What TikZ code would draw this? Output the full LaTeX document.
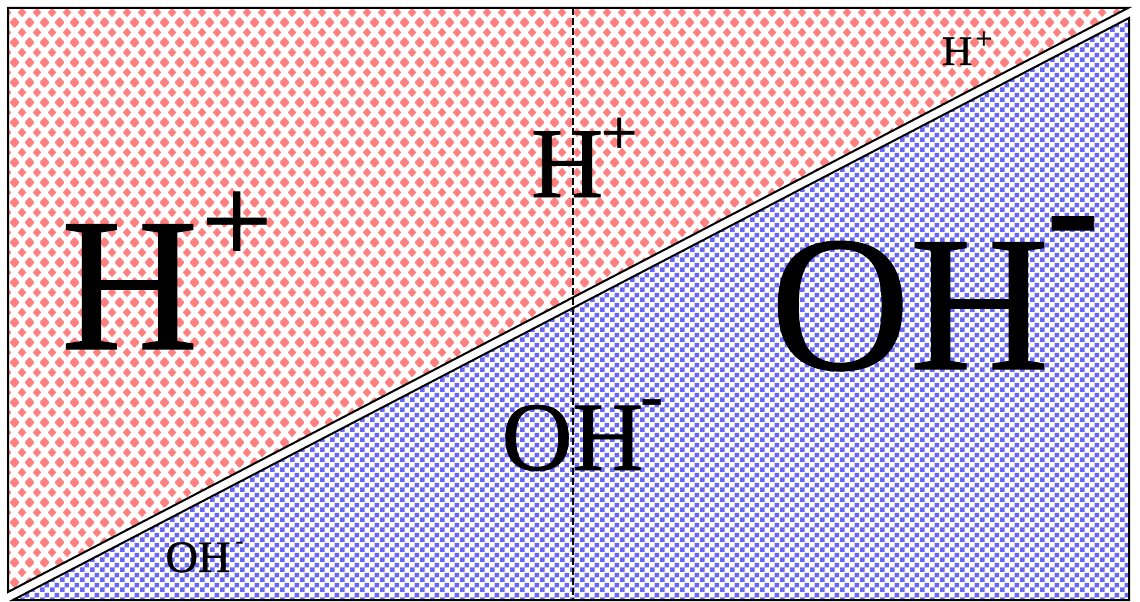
\documentclass[tikz,border=0pt]{standalone}
\usepackage{fontspec}
\setmainfont{Liberation Serif}
\newfontface\ionfont{Liberation Serif}[FakeBold=0.7]
\newfontface\ionfontbold{Liberation Serif Bold}[FakeBold=0.5]
\usetikzlibrary{patterns}
\definecolor{hred}{RGB}{255,128,128}
\definecolor{ohblue}{RGB}{104,104,248}
\pgfdeclarepatternformonly{reddiamonds}{\pgfqpoint{0pt}{0pt}}{\pgfqpoint{15pt}{20pt}}{\pgfqpoint{15pt}{20pt}}{%
  \pgfpathmoveto{\pgfqpoint{3pt}{10pt}}%
  \pgfpathlineto{\pgfqpoint{7.5pt}{5pt}}%
  \pgfpathlineto{\pgfqpoint{12pt}{10pt}}%
  \pgfpathlineto{\pgfqpoint{7.5pt}{15pt}}%
  \pgfpathclose
  \pgfpathmoveto{\pgfqpoint{-4.5pt}{0pt}}%
  \pgfpathlineto{\pgfqpoint{0pt}{-5pt}}%
  \pgfpathlineto{\pgfqpoint{4.5pt}{0pt}}%
  \pgfpathlineto{\pgfqpoint{0pt}{5pt}}%
  \pgfpathclose
  \pgfpathmoveto{\pgfqpoint{10.5pt}{0pt}}%
  \pgfpathlineto{\pgfqpoint{15pt}{-5pt}}%
  \pgfpathlineto{\pgfqpoint{19.5pt}{0pt}}%
  \pgfpathlineto{\pgfqpoint{15pt}{5pt}}%
  \pgfpathclose
  \pgfpathmoveto{\pgfqpoint{-4.5pt}{20pt}}%
  \pgfpathlineto{\pgfqpoint{0pt}{15pt}}%
  \pgfpathlineto{\pgfqpoint{4.5pt}{20pt}}%
  \pgfpathlineto{\pgfqpoint{0pt}{25pt}}%
  \pgfpathclose
  \pgfpathmoveto{\pgfqpoint{10.5pt}{20pt}}%
  \pgfpathlineto{\pgfqpoint{15pt}{15pt}}%
  \pgfpathlineto{\pgfqpoint{19.5pt}{20pt}}%
  \pgfpathlineto{\pgfqpoint{15pt}{25pt}}%
  \pgfpathclose
  \pgfusepath{fill}}
\pgfdeclarepatternformonly{bluechecker}{\pgfqpoint{0pt}{0pt}}{\pgfqpoint{10pt}{10pt}}{\pgfqpoint{10pt}{10pt}}{%
  \pgfpathrectangle{\pgfqpoint{0pt}{0pt}}{\pgfqpoint{5pt}{5pt}}%
  \pgfpathrectangle{\pgfqpoint{5pt}{5pt}}{\pgfqpoint{5pt}{5pt}}%
  \pgfusepath{fill}}
\tikzset{
  border/.style={draw=black, line width=2pt, line join=miter},
  hregion/.style={pattern=reddiamonds, pattern color=hred},
  ohregion/.style={pattern=bluechecker, pattern color=ohblue},
  divider/.style={draw=black, line width=1.3pt, dash pattern=on 7pt off 3pt},
  ionlabel/.style={anchor=base west, inner sep=0pt, outer sep=0pt, text=black}
}
\begin{document}
\begin{tikzpicture}[x=1pt, y=-1pt]
\useasboundingbox (0,0) rectangle (1140,602);
% corners of the two triangles
\coordinate (a1) at (8,8);
\coordinate (a2) at (1128,8);
\coordinate (a3) at (8,592);
\coordinate (b1) at (13,600);
\coordinate (b2) at (1129,18);
\coordinate (b3) at (1129,600);
\fill[hregion] (a1) -- (a2) -- (a3) -- cycle;
\fill[ohregion] (b1) -- (b2) -- (b3) -- cycle;
\draw[border] (a1) -- (a2) -- (a3) -- cycle;
\draw[border] (b1) -- (b2) -- (b3) -- cycle;
% dashed divider
\coordinate (dtop) at (573,8);
\coordinate (dbot) at (573,600);
\draw[divider] (dtop) -- (dbot);
% labels
\node[ionlabel] (hbig) at (61,349) {\ionfont\fontsize{190}{190}\selectfont H\kern3pt\raisebox{86pt}{\fontsize{126}{126}\selectfont +}};
\node[ionlabel] (hmid) at (531,197) {\ionfont\fontsize{100}{100}\selectfont H\kern-2pt\raisebox{43pt}{\fontsize{64}{64}\selectfont +}};
\node[ionlabel] (hsmall) at (942,65) {\ionfont\fontsize{42}{42}\selectfont H\kern3pt\raisebox{16.5pt}{\fontsize{30}{30}\selectfont +}};
\node[ionlabel] (ohbig) at (770.5,369) {\ionfont\fontsize{193}{193}\selectfont OH\kern-3pt\raisebox{108pt}{\ionfontbold\fontsize{160}{160}\selectfont -}};
\node[ionlabel] (ohmid) at (501.7,470) {\ionfont\fontsize{98}{98}\selectfont OH\kern-3pt\raisebox{52pt}{\fontsize{68}{68}\selectfont -}};
\node[ionlabel] (ohsmall) at (165.5,572) {\ionfont\fontsize{45}{45}\selectfont OH\kern5pt\raisebox{23.6pt}{\fontsize{24}{24}\selectfont -}};
\end{tikzpicture}
\end{document}
